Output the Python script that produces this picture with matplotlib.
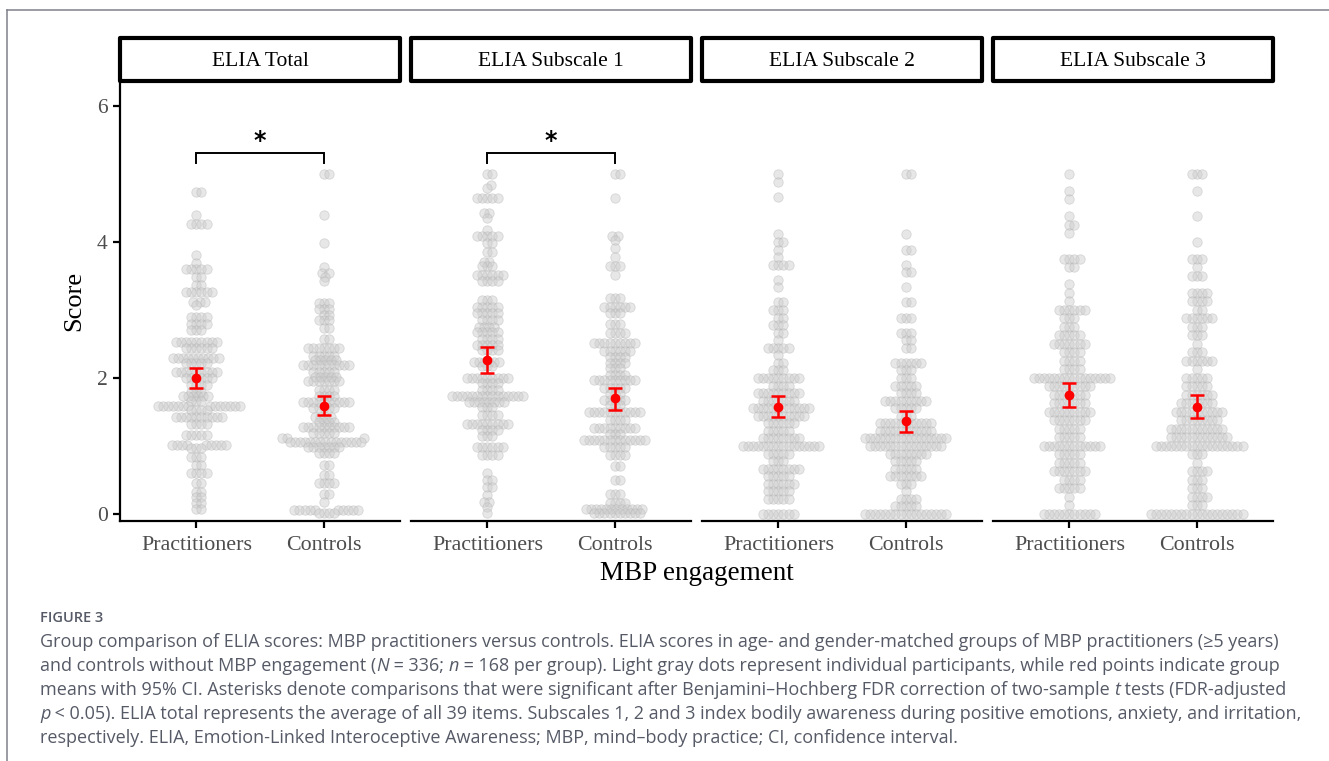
import numpy as np
import matplotlib
matplotlib.use("Agg")
import matplotlib.pyplot as plt
from matplotlib.patches import Rectangle
from matplotlib.lines import Line2D

# ---------------- data ----------------
facets = ["ELIA Total", "ELIA Subscale 1", "ELIA Subscale 2", "ELIA Subscale 3"]
groups = ["Practitioners", "Controls"]

# ELIA Total: score levels and number of participants at each level
tot_prac_vals = [4.74, 4.40, 4.27, 3.81, 3.69, 3.60, 3.49, 3.37, 3.27, 3.12, 3.07, 2.90, 2.80, 2.71,
                 2.53, 2.44, 2.29, 2.22, 2.09, 2.00, 1.90, 1.80, 1.73, 1.66, 1.59, 1.53, 1.43, 1.33,
                 1.16, 1.01, 0.97, 0.84, 0.72, 0.60, 0.45, 0.33, 0.25, 0.16, 0.08]
tot_prac_cnts = [2, 1, 4, 1, 1, 5, 2, 2, 6, 3, 1, 4, 4, 3,
                 9, 6, 10, 5, 9, 6, 4, 3, 6, 3, 14, 4, 10, 4,
                 5, 9, 3, 3, 2, 4, 2, 2, 2, 2, 2]
tot_ctrl_vals = [5.00, 4.40, 3.98, 3.63, 3.55, 3.49, 3.42, 3.11, 3.02, 2.93, 2.85, 2.73, 2.58, 2.44,
                 2.33, 2.26, 2.19, 2.09, 2.02, 1.95, 1.82, 1.73, 1.65, 1.56, 1.43, 1.36, 1.28, 1.19,
                 1.12, 1.06, 0.99, 0.89, 0.72, 0.57, 0.46, 0.30, 0.17, 0.06, 0.01]
tot_ctrl_cnts = [2, 1, 1, 1, 2, 1, 1, 3, 3, 2, 3, 2, 2, 7,
                 5, 5, 10, 5, 5, 7, 4, 4, 10, 5, 4, 4, 10, 5,
                 3, 15, 7, 4, 2, 2, 4, 2, 1, 10, 4]

# ELIA Subscale 1
s1_prac_vals = [5.00, 4.84, 4.79, 4.64, 4.42, 4.35, 4.18, 4.09, 3.98, 3.86, 3.71, 3.64, 3.51, 3.42,
                3.15, 3.05, 2.95, 2.85, 2.75, 2.68, 2.58, 2.49, 2.41, 2.24, 2.17, 2.00, 1.92, 1.82,
                1.73, 1.65, 1.58, 1.46, 1.33, 1.24, 1.14, 0.99, 0.87, 0.60, 0.50, 0.40, 0.28, 0.18,
                0.11, 0.01]
s1_prac_cnts = [2, 1, 1, 5, 2, 1, 1, 5, 2, 2, 2, 3, 6, 4,
                3, 5, 5, 4, 4, 5, 4, 5, 4, 6, 3, 9, 4, 4,
                15, 8, 3, 4, 9, 4, 3, 6, 4, 1, 2, 2, 1, 2,
                1, 1]
s1_ctrl_vals = [5.00, 4.64, 4.09, 4.03, 3.91, 3.78, 3.64, 3.51, 3.17, 3.05, 2.95, 2.80, 2.66, 2.51,
                2.39, 2.31, 2.22, 2.14, 2.05, 1.97, 1.85, 1.76, 1.68, 1.60, 1.50, 1.38, 1.26, 1.17,
                1.09, 0.99, 0.87, 0.70, 0.50, 0.30, 0.16, 0.08, 0.01]
s1_ctrl_cnts = [2, 1, 2, 1, 1, 1, 3, 1, 3, 6, 3, 3, 4, 9,
                6, 4, 4, 3, 4, 9, 5, 3, 5, 3, 11, 4, 9, 3,
                13, 5, 4, 2, 2, 3, 4, 12, 10]

# ELIA Subscale 2 (levels in ninths)
s2_prac_k = [45, 44, 42, 37, 36, 35, 34, 33, 31, 30, 28, 27, 26, 25, 24, 23, 22, 21, 20, 19,
             18, 17, 16, 15, 14, 13, 12, 11, 10, 9, 8, 7, 6, 5, 4, 3, 2, 0]
s2_prac_cnts = [1, 1, 1, 1, 2, 1, 1, 4, 1, 1, 2, 3, 2, 3, 2, 1, 5, 1, 2, 3,
                9, 4, 9, 7, 12, 10, 6, 5, 8, 16, 5, 3, 8, 5, 6, 5, 5, 7]
s2_ctrl_k = [45, 37, 35, 33, 32, 30, 28, 26, 24, 23, 22, 20, 19, 18, 17, 16, 15, 14, 13, 12,
             11, 10, 9, 8, 7, 6, 5, 4, 3, 2, 1, 0]
s2_ctrl_cnts = [2, 1, 2, 1, 2, 1, 2, 3, 3, 2, 2, 6, 3, 3, 5, 4, 9, 5, 3, 11,
                11, 17, 15, 8, 5, 5, 7, 3, 1, 4, 5, 17]

# ELIA Subscale 3 (levels in eighths)
s3_prac_k = [40, 38, 37, 35, 34, 33, 30, 29, 27, 26, 25, 24, 23, 22, 21, 20, 19, 18, 17, 16,
             15, 14, 13, 12, 11, 10, 9, 8, 7, 6, 5, 4, 3, 2, 1, 0]
s3_prac_cnts = [1, 1, 1, 1, 2, 1, 4, 2, 1, 1, 1, 6, 3, 3, 5, 7, 4, 4, 4, 16,
                9, 7, 7, 9, 7, 5, 5, 12, 5, 5, 7, 4, 5, 1, 1, 11]
s3_ctrl_k = [40, 38, 35, 32, 30, 29, 28, 26, 25, 24, 23, 22, 21, 20, 19, 18, 17, 16, 15, 14,
             13, 12, 11, 10, 9, 8, 7, 6, 5, 4, 3, 2, 1, 0]
s3_ctrl_cnts = [3, 1, 1, 1, 3, 1, 3, 4, 4, 2, 6, 3, 3, 1, 3, 6, 1, 5, 5, 6,
                7, 10, 8, 11, 12, 18, 3, 1, 4, 3, 3, 4, 3, 19]

mean_prac = [2.00, 2.26, 1.58, 1.75]
ci_lo_prac = [1.85, 2.08, 1.42, 1.58]
ci_hi_prac = [2.14, 2.45, 1.74, 1.92]
mean_ctrl = [1.59, 1.70, 1.37, 1.58]
ci_lo_ctrl = [1.45, 1.53, 1.21, 1.41]
ci_hi_ctrl = [1.74, 1.86, 1.52, 1.75]

significant = [True, True, False, False]
y_ticks = [0, 2, 4, 6]

# ---------------- build value arrays ----------------
def expand(vals, cnts):
    return np.repeat(np.asarray(vals, float), cnts)

data = [
    (expand(tot_prac_vals, tot_prac_cnts), expand(tot_ctrl_vals, tot_ctrl_cnts)),
    (expand(s1_prac_vals, s1_prac_cnts), expand(s1_ctrl_vals, s1_ctrl_cnts)),
    (expand(np.array(s2_prac_k) / 9, s2_prac_cnts), expand(np.array(s2_ctrl_k) / 9, s2_ctrl_cnts)),
    (expand(np.array(s3_prac_k) / 8, s3_prac_cnts), expand(np.array(s3_ctrl_k) / 8, s3_ctrl_cnts)),
]

# ---------------- figure ----------------
W, H = 1329, 761
fig = plt.figure(figsize=(W / 100, H / 100), dpi=100)
fig.patch.set_facecolor("white")

SERIF = ["Liberation Serif", "DejaVu Serif"]
SANS = ["Open Sans", "DejaVu Sans"]

def fx(px):
    return px / W

def fy(py):
    return 1 - py / H

panel_x0 = [120, 411, 702, 993]
panel_w = 280
panel_top, panel_bot = 80, 521
ylim = (-0.103, 6.382)
xlim = (0.4, 2.6)

sx = panel_w / (xlim[1] - xlim[0])          # px per x unit
sy = (panel_bot - panel_top) / (ylim[1] - ylim[0])  # px per y unit


def swarm_offsets(vals, d_px):
    """beeswarm placement (ascending), returns x offsets in data units"""
    order = np.argsort(vals, kind="stable")
    px_x, px_y = [], []
    offs = np.zeros(len(vals))
    for idx in order:
        y = vals[idx] * sy
        cands = [0.0]
        near = []
        for xx, yy in zip(px_x, px_y):
            dy = y - yy
            if abs(dy) < d_px:
                dx = np.sqrt(d_px ** 2 - dy ** 2)
                cands += [xx + dx, xx - dx]
                near.append((xx, yy))
        cands = sorted(set(cands), key=lambda c: (abs(c), -c))
        chosen = 0.0
        for c in cands:
            ok = True
            for xx, yy in near:
                if (c - xx) ** 2 + (y - yy) ** 2 < d_px ** 2 - 1e-6:
                    ok = False
                    break
            if ok:
                chosen = c
                break
        px_x.append(chosen)
        px_y.append(y)
        offs[idx] = chosen / sx
    return offs


for i, name in enumerate(facets):
    ax = fig.add_axes([fx(panel_x0[i]), fy(panel_bot), panel_w / W, (panel_bot - panel_top) / H])
    ax.set_xlim(*xlim)
    ax.set_ylim(*ylim)
    for s in ["top", "right"]:
        ax.spines[s].set_visible(False)
    ax.spines["bottom"].set_linewidth(1.6)
    if i == 0:
        ax.spines["left"].set_linewidth(1.6)
        ax.set_yticks(y_ticks)
        ax.set_yticklabels([str(t) for t in y_ticks], family=SERIF, fontsize=15.5, color="#4d4d4d")
        ax.tick_params(axis="y", length=5, width=1.6, pad=4)
        ax.set_ylabel("Score", family=SERIF, fontsize=19, labelpad=8)
    else:
        ax.spines["left"].set_visible(False)
        ax.set_yticks([])
    ax.set_xticks([1, 2])
    ax.set_xticklabels(groups, family=SERIF, fontsize=15.8, color="#4d4d4d")
    ax.tick_params(axis="x", length=5, width=1.6, pad=6)

    for g in range(2):
        vals = data[i][g]
        offs = swarm_offsets(vals, 5.1)
        ax.scatter(g + 1 + offs, vals, s=46, facecolor="#cbcbcb", edgecolor="#b4b4b4",
                   linewidths=0.6, alpha=0.45, zorder=2)

    means = [mean_prac[i], mean_ctrl[i]]
    los = [ci_lo_prac[i], ci_lo_ctrl[i]]
    his = [ci_hi_prac[i], ci_hi_ctrl[i]]
    for g in range(2):
        ax.errorbar([g + 1], [means[g]], yerr=[[means[g] - los[g]], [his[g] - means[g]]],
                    fmt="o", color="red", ms=6.0, elinewidth=1.8, capsize=4.8, capthick=1.8, zorder=4)

    if significant[i]:
        yb, yt = 5.16, 5.31
        ax.plot([1, 1, 2, 2], [yb, yt, yt, yb], color="black", lw=1.4, solid_joinstyle="miter", zorder=3)
        ax.text(1.5, 5.31, "*", ha="center", va="bottom", fontsize=17, family="DejaVu Sans",
                weight="bold")

    # strip
    fig.patches.append(Rectangle((fx(panel_x0[i]), fy(81)), panel_w / W, 43 / H,
                                 transform=fig.transFigure, facecolor="white", edgecolor="black",
                                 linewidth=3.0, joinstyle="round"))
    fig.text(fx(panel_x0[i] + panel_w / 2), fy(61), name, ha="center", va="center",
             family=SERIF, fontsize=15.5)

fig.text(fx(697), fy(574), "MBP engagement", ha="center", va="center", family=SERIF, fontsize=19.5)

# frame lines of the page
fig.add_artist(Line2D([fx(7), 1], [fy(10), fy(10)], color="#80808c", lw=1.1))
fig.add_artist(Line2D([fx(7), fx(7)], [fy(10), 0], color="#80808c", lw=1.1))

# ---------------- caption ----------------
cap_color = "#555a66"
fig.text(fx(40), fy(622.5), "FIGURE 3", family=SANS, fontsize=10.5, color=cap_color,
         va="baseline", weight="semibold")

lines = [
    [("Group comparison of ELIA scores: MBP practitioners versus controls. ELIA scores in age- and gender-matched groups of MBP practitioners (\u22655 years)", False)],
    [("and controls without MBP engagement (", False), ("N", True), (" = 336; ", False), ("n", True),
     (" = 168 per group). Light gray dots represent individual participants, while red points indicate group", False)],
    [("means with 95% CI. Asterisks denote comparisons that were significant after Benjamini\u2013Hochberg FDR correction of two-sample ", False),
     ("t", True), (" tests (FDR-adjusted", False)],
    [("p", True), (" < 0.05). ELIA total represents the average of all 39 items. Subscales 1, 2 and 3 index bodily awareness during positive emotions, anxiety, and irritation,", False)],
    [("respectively. ELIA, Emotion-Linked Interoceptive Awareness; MBP, mind\u2013body practice; CI, confidence interval.", False)],
]

renderer = fig.canvas.get_renderer()
probe = fig.text(0, 0, lines[0][0][0], family=SANS, fontsize=12)
w0 = probe.get_window_extent(renderer).width
probe.remove()
cap_size = 12 * 1238 / w0

baselines = [647, 671, 695, 719, 743]
for runs, yb in zip(lines, baselines):
    x = 40
    for txt, it in runs:
        t = fig.text(fx(x), fy(yb), txt, family=SANS, fontsize=cap_size, color=cap_color,
                     style="italic" if it else "normal", va="baseline", ha="left")
        x += t.get_window_extent(renderer).width

fig.savefig("out.png", dpi=100, facecolor="white")
